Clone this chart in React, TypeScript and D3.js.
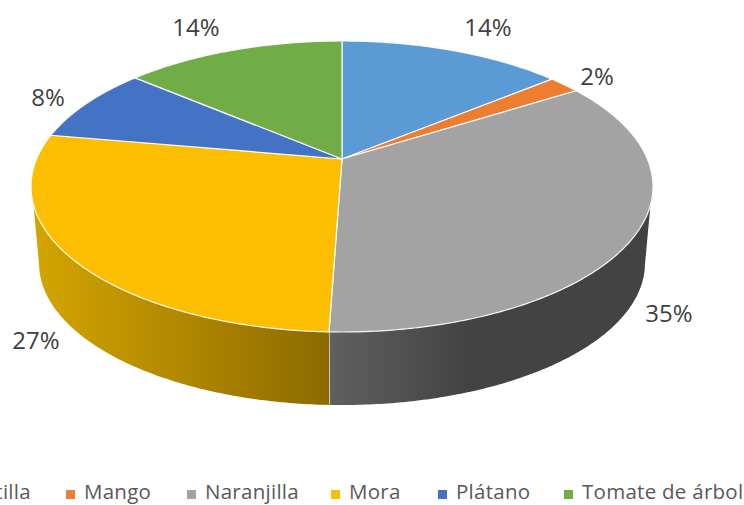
import React, { useEffect, useRef } from 'react'
import * as d3 from 'd3'

//// Data
const categories = ['Frutilla', 'Mango', 'Naranjilla', 'Mora', 'Plátano', 'Tomate de árbol']
const shares = [14, 2, 34.55, 27.25, 8.45, 13.75]
const colors = ['#5B9BD5', '#ED7D31', '#A3A3A3', '#FCBE00', '#4472C4', '#70AD47']

//// Layout
const width = 744
const height = 505
const labelPos = [[488, 28], [597, 77], [669, 314], [36, 341], [48, 98], [196, 28]]
const legendX = [-55, 66, 187, 331, 438, 564]

// perspective of the pie disc
const k = 0.189
const cx = 342
const topRim = { cy: 159, rx: 305.4, ry: 140.3 }
const lowRim = { cy: 236.5, rx: 297.5, ry: 136.7 }
const deg = Math.PI / 180
const silhouetteTop = [108 * deg, 252 * deg]
const silhouetteLow = [101.5 * deg, 258.5 * deg]

type Rim = { cy: number, rx: number, ry: number }

function project(a: number, rim: Rim): [number, number] {
    const u = Math.sin(a)
    const v = -Math.cos(a)
    const d = 1 - k * v
    return [cx + rim.rx * u / d, rim.cy + rim.ry * v / d]
}

function rimPoints(a0: number, a1: number, rim: Rim) {
    const n = Math.max(2, Math.ceil(Math.abs(a1 - a0) / 0.01))
    return d3.range(n + 1).map(i => project(a0 + (a1 - a0) * i / n, rim))
}

export default function App() {
    const svgRef = useRef<SVGSVGElement>(null)

    useEffect(() => {
        const svg = d3.select(svgRef.current)
        svg.selectAll('*').remove()

        const arcs = d3.pie<number>().sort(null).value(d => d)(shares.map(d => d / 100))
        const line = d3.line()

        const defs = svg.append('defs')
        const addGradient = (id: string, x1: number, x2: number, stops: [number, string][]) => {
            const g = defs.append('linearGradient').attr('id', id)
                .attr('gradientUnits', 'userSpaceOnUse')
                .attr('x1', x1).attr('x2', x2).attr('y1', 0).attr('y2', 0)
            stops.forEach(s => g.append('stop').attr('offset', s[0]).attr('stop-color', s[1]))
        }
        addGradient('wall2', 330, 650, [[0, '#606060'], [0.42, '#434343'], [1, '#434343']])
        addGradient('wall3', 40, 329, [[0, '#D2A400'], [1, '#8D6A00']])

        // side wall, only the slices facing the viewer
        const wall = svg.append('g')
        arcs.forEach((d, i) => {
            const a0 = Math.max(d.startAngle, silhouetteTop[0])
            const a1 = Math.min(d.endAngle, silhouetteTop[1])
            if (a0 >= a1) return
            const b0 = d.startAngle > silhouetteTop[0] ? d.startAngle : silhouetteLow[0]
            const b1 = d.endAngle < silhouetteTop[1] ? d.endAngle : silhouetteLow[1]
            const pts = [...rimPoints(a0, a1, topRim), ...rimPoints(b1, b0, lowRim)]
            wall.append('path')
                .attr('d', line(pts) + 'Z')
                .attr('fill', `url(#wall${ i })`)
            // light seam between wall pieces
            if (d.endAngle < silhouetteTop[1]) {
                wall.append('path')
                    .attr('d', line([project(d.endAngle, topRim), project(d.endAngle, lowRim)]))
                    .attr('stroke', '#fff')
                    .attr('stroke-opacity', 0.8)
                    .attr('stroke-width', 1.5)
            }
        })

        // top face
        svg.append('g')
            .selectAll('path')
            .data(arcs)
            .join('path')
            .attr('d', d => line([[cx, topRim.cy], ...rimPoints(d.startAngle, d.endAngle, topRim)]) + 'Z')
            .attr('fill', (d, i) => colors[i])
            .attr('stroke', '#fff')
            .attr('stroke-opacity', 0.9)
            .attr('stroke-width', 1.2)
            .attr('stroke-linejoin', 'round')

        const font = '"Open Sans", sans-serif'

        svg.append('g')
            .selectAll('text')
            .data(arcs)
            .join('text')
            .attr('x', (d, i) => labelPos[i][0])
            .attr('y', (d, i) => labelPos[i][1])
            .attr('dy', '0.35em')
            .attr('text-anchor', 'middle')
            .attr('font-family', font)
            .attr('font-size', 24)
            .attr('fill', '#404040')
            .text(d => d3.format('.0%')(d.data))

        const legend = svg.append('g')
            .selectAll('g')
            .data(categories)
            .join('g')
            .attr('transform', (d, i) => `translate(${ legendX[i] },0)`)
        legend.append('rect')
            .attr('y', 490)
            .attr('width', 9)
            .attr('height', 9)
            .attr('fill', (d, i) => colors[i])
        legend.append('text')
            .attr('x', 18)
            .attr('y', 499)
            .attr('font-family', font)
            .attr('font-size', 20.5)
            .attr('letter-spacing', 0.27)
            .attr('fill', '#595959')
            .text(d => d)
    }, [])

    return <svg ref={ svgRef } width={ width } height={ height }
                style={ { position: 'absolute', left: 0, top: 0, display: 'block', background: '#fff' } }/>
}
